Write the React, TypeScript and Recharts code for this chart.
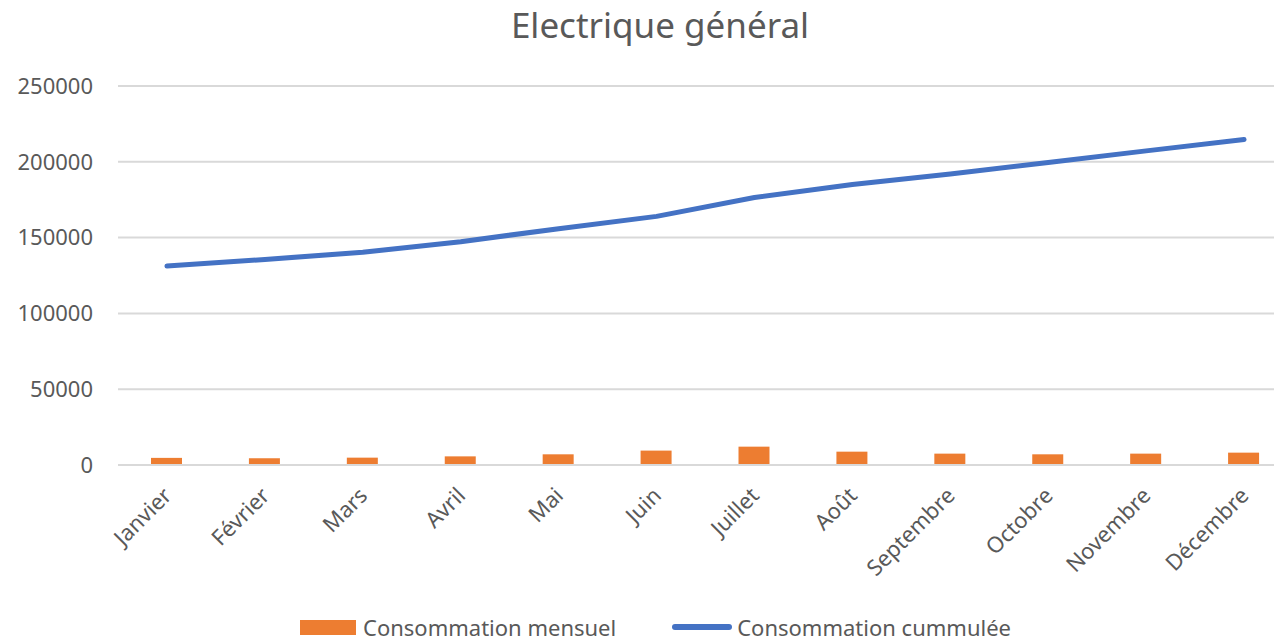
import {
  ComposedChart,
  Bar,
  Line,
  XAxis,
  YAxis,
  CartesianGrid,
  Legend,
} from "recharts";

const months = [
  "Janvier",
  "Février",
  "Mars",
  "Avril",
  "Mai",
  "Juin",
  "Juillet",
  "Août",
  "Septembre",
  "Octobre",
  "Novembre",
  "Décembre",
];
const monthly = [4700, 4400, 4850, 5700, 7050, 9500, 12100, 8800, 7500, 7050, 7500, 8150];
const cumulative = [
  131200, 135600, 140400, 147300, 155900, 164000, 176400, 185000, 192000, 199500, 207200, 214700,
];
const yTicks = [0, 50000, 100000, 150000, 200000, 250000];

const data = months.map((m, i) => ({
  month: m,
  mensuel: monthly[i],
  cumul: cumulative[i],
}));

const FONT = "'Noto Sans', 'Open Sans', sans-serif";
const TEXT = "#595959";

// rotated month labels, like Excel's -45° axis text
const MonthTick = ({ x, y, payload }: any) => (
  <g transform={`translate(${x + 6},${y + 32})`}>
    <text
      textAnchor="end"
      transform="rotate(-45)"
      fill={TEXT}
      fontSize={22}
      fontFamily={FONT}
    >
      {payload.value}
    </text>
  </g>
);

const LegendBox = ({ payload }: any) => {
  // bar entry first, then the line, as in the original
  const items = [...(payload || [])].sort(
    (a: any, b: any) => (a.type === "line" ? 1 : 0) - (b.type === "line" ? 1 : 0)
  );
  return (
    <div
      style={{
        display: "flex",
        justifyContent: "center",
        alignItems: "center",
        gap: 56,
        fontFamily: FONT,
        fontSize: 22,
        color: TEXT,
        height: 30,
      }}
    >
      {items.map((entry: any) => (
        <div key={entry.value} style={{ display: "flex", alignItems: "center" }}>
          {entry.type === "line" ? (
            <span
              style={{
                display: "inline-block",
                width: 60,
                height: 6,
                borderRadius: 3,
                background: entry.color,
                marginRight: 5,
              }}
            />
          ) : (
            <span
              style={{
                display: "inline-block",
                width: 56,
                height: 15,
                background: entry.color,
                marginRight: 7,
              }}
            />
          )}
          <span style={{ lineHeight: "30px" }}>{entry.value}</span>
        </div>
      ))}
    </div>
  );
};

export default function App() {
  return (
    <div
      style={{
        position: "fixed",
        top: 0,
        left: 0,
        width: 1274,
        height: 644,
        overflow: "hidden",
        background: "#fff",
      }}
    >
      <div
        style={{
          position: "absolute",
          top: 0,
          width: 1320,
          textAlign: "center",
          fontFamily: FONT,
          fontSize: 35,
          color: TEXT,
          lineHeight: "50px",
        }}
      >
        Electrique général
      </div>
      <ComposedChart
        width={1320}
        height={644}
        data={data}
        margin={{ top: 86, right: 27, left: 18, bottom: 0 }}
        barCategoryGap={0}
      >
        <CartesianGrid vertical={false} stroke="#d9d9d9" strokeWidth={2} />
        <XAxis
          dataKey="month"
          interval={0}
          height={147}
          tickLine={false}
          tickSize={0}
          tickMargin={0}
          axisLine={{ stroke: "#d9d9d9", strokeWidth: 2 }}
          tick={<MonthTick />}
        />
        <YAxis
          domain={[0, 250000]}
          ticks={yTicks}
          width={100}
          axisLine={false}
          tickLine={false}
          tickSize={0}
          tickMargin={25}
          tick={{ fill: TEXT, fontSize: 22, fontFamily: FONT }}
        />
        <Legend verticalAlign="bottom" height={32} content={<LegendBox />} />
        <Bar
          dataKey="mensuel"
          name="Consommation mensuel"
          fill="#ED7D31"
          barSize={31}
          legendType="rect"
          isAnimationActive={false}
        />
        <Line
          dataKey="cumul"
          name="Consommation cummulée"
          type="linear"
          stroke="#4472C4"
          strokeWidth={5}
          strokeLinecap="round"
          strokeLinejoin="round"
          dot={false}
          activeDot={false}
          legendType="line"
          isAnimationActive={false}
        />
      </ComposedChart>
    </div>
  );
}
